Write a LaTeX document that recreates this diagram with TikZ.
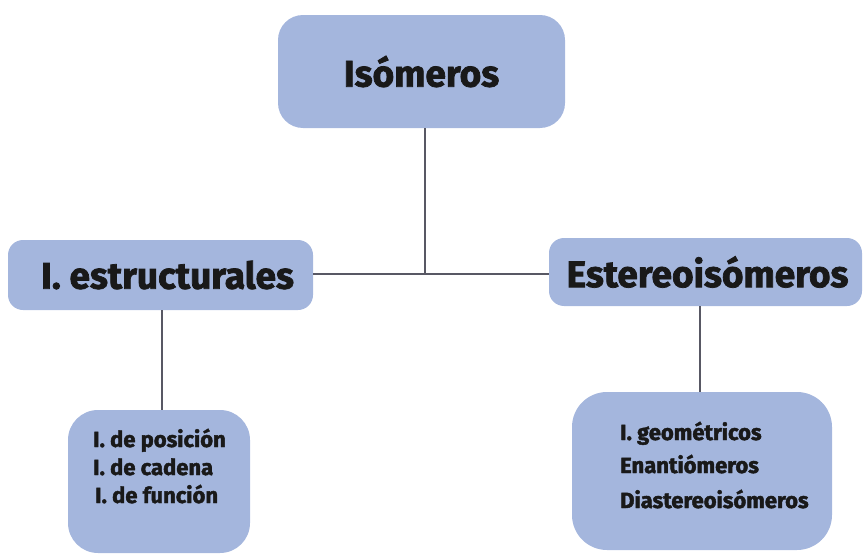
\documentclass[tikz,border=0pt]{standalone}
\usepackage{fontspec}
\setmainfont{Fira Sans}[BoldFeatures={FakeBold=2}]
\definecolor{boxfill}{RGB}{164,182,221}
\definecolor{linecol}{RGB}{88,88,100}
\tikzset{
  box/.style={fill=boxfill, draw=none, inner sep=0pt, font=\bfseries, text=black!90},
  conn/.style={draw=linecol, line width=1.3pt},
  txt/.style={inner sep=0pt, font=\bfseries\fontsize{22}{24}\selectfont, text=black!90, anchor=base west}
}
\begin{document}
\begin{tikzpicture}[x=1pt,y=-1pt]
\useasboundingbox (0,0) rectangle (863,554);
% boxes
\node[box, minimum width=287pt, minimum height=113pt, rounded corners=25pt] (iso) at (421.5,71.5)
  {\fontsize{37}{40}\selectfont Isómeros};
\node[box, minimum width=305pt, minimum height=70pt, rounded corners=15pt] (ie) at (160.5,275)
  {\fontsize{37}{40}\selectfont\hspace*{14pt}I. estructurales};
\node[box, minimum width=313pt, minimum height=68pt, rounded corners=15pt] (ee) at (705.5,272)
  {\fontsize{37}{40}\selectfont\hspace*{4pt}Estereoisómeros};
\node[box, minimum width=182pt, minimum height=143pt, rounded corners=30pt] (bl) at (159,481.5) {};
\node[box, minimum width=260pt, minimum height=158pt, rounded corners=35pt] (br) at (702,471) {};
% texts in bottom boxes
\node[txt] (bl1) at (93,447) {I. de posición};
\node[txt] (bl2) at (93,475) {I. de cadena};
\node[txt] (bl3) at (95,503) {I. de función};
\node[txt] (br1) at (620,440) {I. geométricos};
\node[txt] (br2) at (620,473) {Enantiómeros};
\node[txt] (br3) at (620,508) {Diastereoisómeros};
% connectors
\coordinate (j) at (425,274);
\draw[conn] (iso.south -| j) -- (j);
\draw[conn] (ie.east |- j) -- (ee.west |- j);
\draw[conn] (162,310) coordinate (a1) -- (bl.north -| a1);
\draw[conn] (700,306) coordinate (a2) -- (br.north -| a2);
\end{tikzpicture}
\end{document}
